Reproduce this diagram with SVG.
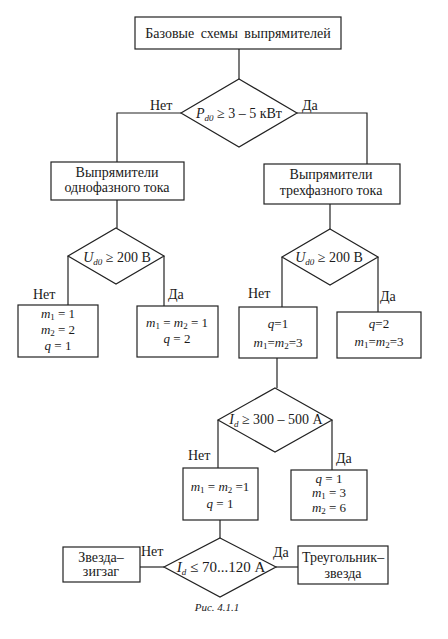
<svg xmlns="http://www.w3.org/2000/svg" width="448" height="639" viewBox="0 0 448 639">
<style>
.bx{fill:#fff;stroke:#222;stroke-width:1.2}
.ln{fill:none;stroke:#222;stroke-width:1.2}
text{font-family:'Liberation Serif','Times New Roman',serif;font-size:14px;fill:#1a1a1a}
.m{font-size:13px}
.c{text-anchor:middle}
.i{font-style:italic}
.s{font-size:9px}
</style>
<rect width="448" height="639" fill="#fff"/>
<g id="connectors" class="ln">
<line x1="239" y1="49" x2="239" y2="79"/>
<polyline points="181,113 117,113 117,162"/>
<polyline points="297,113 367,113 367,164"/>
<line x1="117" y1="200" x2="117" y2="228"/>
<line x1="330" y1="204" x2="330" y2="229"/>
<line x1="68" y1="256" x2="68" y2="305"/>
<line x1="164" y1="256" x2="164" y2="306"/>
<line x1="282" y1="257" x2="282" y2="307"/>
<line x1="378" y1="257" x2="378" y2="312"/>
<line x1="277" y1="358" x2="277" y2="388"/>
<line x1="218" y1="420" x2="218" y2="468"/>
<line x1="332" y1="420" x2="332" y2="470"/>
<line x1="220" y1="520" x2="220" y2="538"/>
<line x1="140" y1="567" x2="164" y2="567"/>
<line x1="276" y1="567" x2="298" y2="567"/>
</g>
<g id="labels">
<text x="150" y="110">Нет</text>
<text x="302" y="110">Да</text>
<text x="33" y="299">Нет</text>
<text x="168" y="299">Да</text>
<text x="248" y="298">Нет</text>
<text x="380" y="301">Да</text>
<text x="188" y="460">Нет</text>
<text x="336" y="463">Да</text>
<text x="141" y="556">Нет</text>
<text x="273" y="557">Да</text>
</g>
<g id="n_top"><rect class="bx" x="135" y="17" width="206" height="32"/><text class="c" x="238" y="38" word-spacing="3">Базовые схемы выпрямителей</text></g>
<g id="d_power"><polygon class="bx" points="239,79 297,113 239,147 181,113"/><text class="c" x="239" y="118"><tspan class="i">P</tspan><tspan class="i s" dy="3">d0</tspan><tspan dy="-3"> ≥ 3 – 5 кВт</tspan></text></g>
<g id="n_single"><rect class="bx" x="51" y="162" width="133" height="38"/><text class="c" x="117" y="177">Выпрямители</text><text class="c" x="117" y="192">однофазного тока</text></g>
<g id="n_three"><rect class="bx" x="264" y="164" width="136" height="40"/><text class="c" x="331" y="179">Выпрямители</text><text class="c" x="331" y="195">трехфазного тока</text></g>
<g id="d_u1"><polygon class="bx" points="116,228 164,256 116,284 68,256"/><text class="c" x="117" y="262"><tspan class="i">U</tspan><tspan class="i s" dy="3">d0</tspan><tspan dy="-3"> ≥ 200 В</tspan></text></g>
<g id="d_u2"><polygon class="bx" points="330,229 378,257 330,285 282,257"/><text class="c" x="329" y="262"><tspan class="i">U</tspan><tspan class="i s" dy="3">d0</tspan><tspan dy="-3"> ≥ 200 В</tspan></text></g>
<g id="n_b1"><rect class="bx" x="18" y="305" width="80" height="52"/>
<text class="m c" x="58" y="318"><tspan class="i">m</tspan><tspan class="s" dy="2">1</tspan><tspan dy="-2"> = 1</tspan></text>
<text class="m c" x="58" y="334"><tspan class="i">m</tspan><tspan class="s" dy="2">2</tspan><tspan dy="-2"> = 2</tspan></text>
<text class="m c" x="58" y="350"><tspan class="i">q</tspan> = 1</text></g>
<g id="n_b2"><rect class="bx" x="137" y="306" width="81" height="51"/>
<text class="m c" x="177" y="327"><tspan class="i">m</tspan><tspan class="s" dy="2">1</tspan><tspan dy="-2"> = </tspan><tspan class="i">m</tspan><tspan class="s" dy="2">2</tspan><tspan dy="-2"> = 1</tspan></text>
<text class="m c" x="177" y="343"><tspan class="i">q</tspan> = 2</text></g>
<g id="n_b3"><rect class="bx" x="239" y="307" width="78" height="51"/>
<text class="m c" x="278" y="328"><tspan class="i">q</tspan>=1</text>
<text class="m c" x="278" y="347"><tspan class="i">m</tspan><tspan class="s" dy="2">1</tspan><tspan dy="-2">=</tspan><tspan class="i">m</tspan><tspan class="s" dy="2">2</tspan><tspan dy="-2">=3</tspan></text></g>
<g id="n_b4"><rect class="bx" x="337" y="312" width="84" height="46"/>
<text class="m c" x="379" y="328"><tspan class="i">q</tspan>=2</text>
<text class="m c" x="379" y="346"><tspan class="i">m</tspan><tspan class="s" dy="2">1</tspan><tspan dy="-2">=</tspan><tspan class="i">m</tspan><tspan class="s" dy="2">2</tspan><tspan dy="-2">=3</tspan></text></g>
<g id="d_id1"><polygon class="bx" points="275,388 332,420 275,452 218,420"/><text class="c" x="276" y="424"><tspan class="i">I</tspan><tspan class="i s" dy="3">d</tspan><tspan dy="-3"> ≥ 300 – 500 А</tspan></text></g>
<g id="n_b5"><rect class="bx" x="183" y="468" width="75" height="52"/>
<text class="m c" x="220" y="491"><tspan class="i">m</tspan><tspan class="s" dy="2">1</tspan><tspan dy="-2"> = </tspan><tspan class="i">m</tspan><tspan class="s" dy="2">2</tspan><tspan dy="-2"> =1</tspan></text>
<text class="m c" x="220" y="508"><tspan class="i">q</tspan> = 1</text></g>
<g id="n_b6"><rect class="bx" x="291" y="470" width="76" height="50"/>
<text class="m c" x="329" y="483"><tspan class="i">q</tspan> = 1</text>
<text class="m c" x="329" y="497"><tspan class="i">m</tspan><tspan class="s" dy="2">1</tspan><tspan dy="-2"> = 3</tspan></text>
<text class="m c" x="329" y="512"><tspan class="i">m</tspan><tspan class="s" dy="2">2</tspan><tspan dy="-2"> = 6</tspan></text></g>
<g id="d_id2"><polygon class="bx" points="220,538 276,567 220,597 164,567"/><text class="c" x="221" y="572" style="font-size:15px"><tspan class="i">I</tspan><tspan class="i s" dy="3">d</tspan><tspan dy="-3"> ≤ 70...120 А</tspan></text></g>
<g id="n_zz"><rect class="bx" x="63" y="547" width="77" height="35"/><text class="c" x="101" y="562">Звезда–</text><text class="c" x="101" y="576">зигзаг</text></g>
<g id="n_tz"><rect class="bx" x="298" y="546" width="90" height="38"/><text class="c" x="343" y="562">Треугольник–</text><text class="c" x="343" y="578">звезда</text></g>
<text class="i c" x="217" y="611" style="font-size:11px">Рис. 4.1.1</text>
</svg>
